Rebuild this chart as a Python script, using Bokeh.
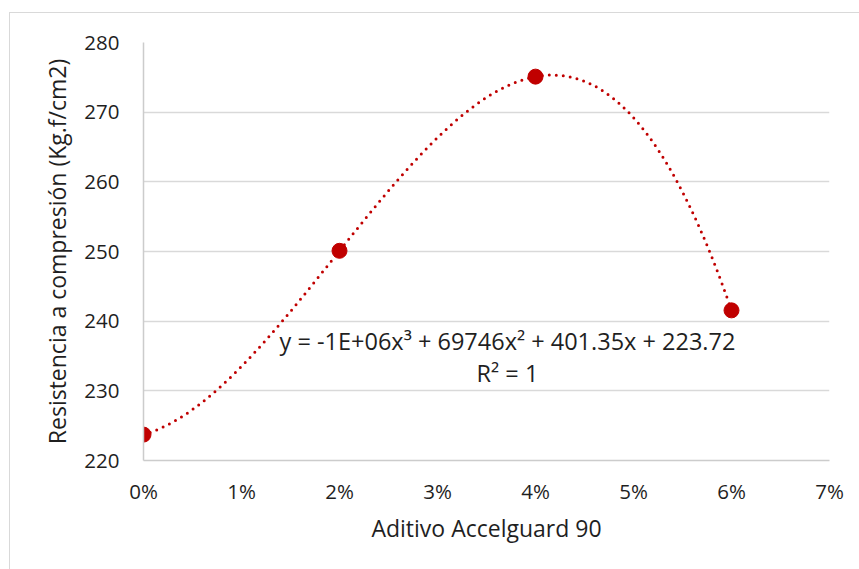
import numpy as np
from bokeh.plotting import figure
from bokeh.models import FixedTicker, NumeralTickFormatter, Label, Range1d
from bokeh.embed import file_html
from bokeh.resources import INLINE

# Data
aditivo = [0.00, 0.02, 0.04, 0.06]
resistencia = [223.72, 250.1, 275.1, 241.55]
x_ticks = [0.00, 0.01, 0.02, 0.03, 0.04, 0.05, 0.06, 0.07]
y_ticks = [220, 230, 240, 250, 260, 270, 280]
ecuacion = "y = -1E+06x³ + 69746x² + 401.35x + 223.72"
r2_text = "R² = 1"
x_label = "Aditivo Accelguard 90"
y_label = "Resistencia a compresión (Kg.f/cm2)"

FONT = "Open Sans"
RED = "#C00000"
TXT = "#1f1f1f"

p = figure(width=850, height=557, output_backend="svg", toolbar_location=None,
           x_range=Range1d(0, 0.07), y_range=Range1d(220, 280),
           min_border_left=133, min_border_right=31, min_border_top=29, min_border_bottom=110)
p.styles = {"margin-left": "9px", "margin-top": "12px",
            "border-left": "1px solid #d9d9d9", "border-top": "1px solid #d9d9d9"}
p.outline_line_color = None
p.background_fill_color = "white"
p.border_fill_color = "white"

# trendline (cubic polynomial fit of the data, like Excel's trendline)
coef = np.polyfit(aditivo, resistencia, 3)
xs = np.linspace(min(aditivo), max(aditivo), 300)
ys = np.polyval(coef, xs)
p.line(xs, ys, line_color=RED, line_width=3, line_dash="0 7", line_cap="round")

p.scatter(aditivo, resistencia, size=15, fill_color=RED, line_color=RED)

p.xaxis.ticker = FixedTicker(ticks=x_ticks)
p.yaxis.ticker = FixedTicker(ticks=y_ticks)
p.xaxis.formatter = NumeralTickFormatter(format="0%")

p.xgrid.grid_line_color = None
p.ygrid.grid_line_color = "#d9d9d9"
p.ygrid.grid_line_width = 1.5
p.ygrid.ticker = FixedTicker(ticks=y_ticks)

for ax in (p.xaxis[0], p.yaxis[0]):
    ax.axis_line_color = "#cccccc"
    ax.axis_line_width = 1.5
    ax.major_tick_line_color = None
    ax.minor_tick_line_color = None
    ax.major_label_text_font = FONT
    ax.major_label_text_font_size = "20.5px"
    ax.major_label_text_color = TXT
    ax.axis_label_text_font = FONT
    ax.axis_label_text_font_style = "normal"
    ax.axis_label_text_color = TXT

p.xaxis.axis_label = x_label
p.yaxis.axis_label = y_label
p.xaxis.axis_label_text_font_size = "23px"
p.yaxis.axis_label_text_font_size = "23px"
p.xaxis.major_label_standoff = 10
p.xaxis.axis_label_standoff = 4
p.yaxis.major_label_standoff = 18
p.yaxis.axis_label_standoff = 8

eq_x = 0.03714
p.add_layout(Label(x=eq_x, y=237.1, text=ecuacion, text_align="center", text_baseline="middle",
                   text_font=FONT, text_font_size="23.5px", text_color=TXT))
p.add_layout(Label(x=eq_x, y=232.5, text=r2_text, text_align="center", text_baseline="middle",
                   text_font=FONT, text_font_size="23.5px", text_color=TXT))

open("out.html", "w").write(file_html(p, INLINE))
